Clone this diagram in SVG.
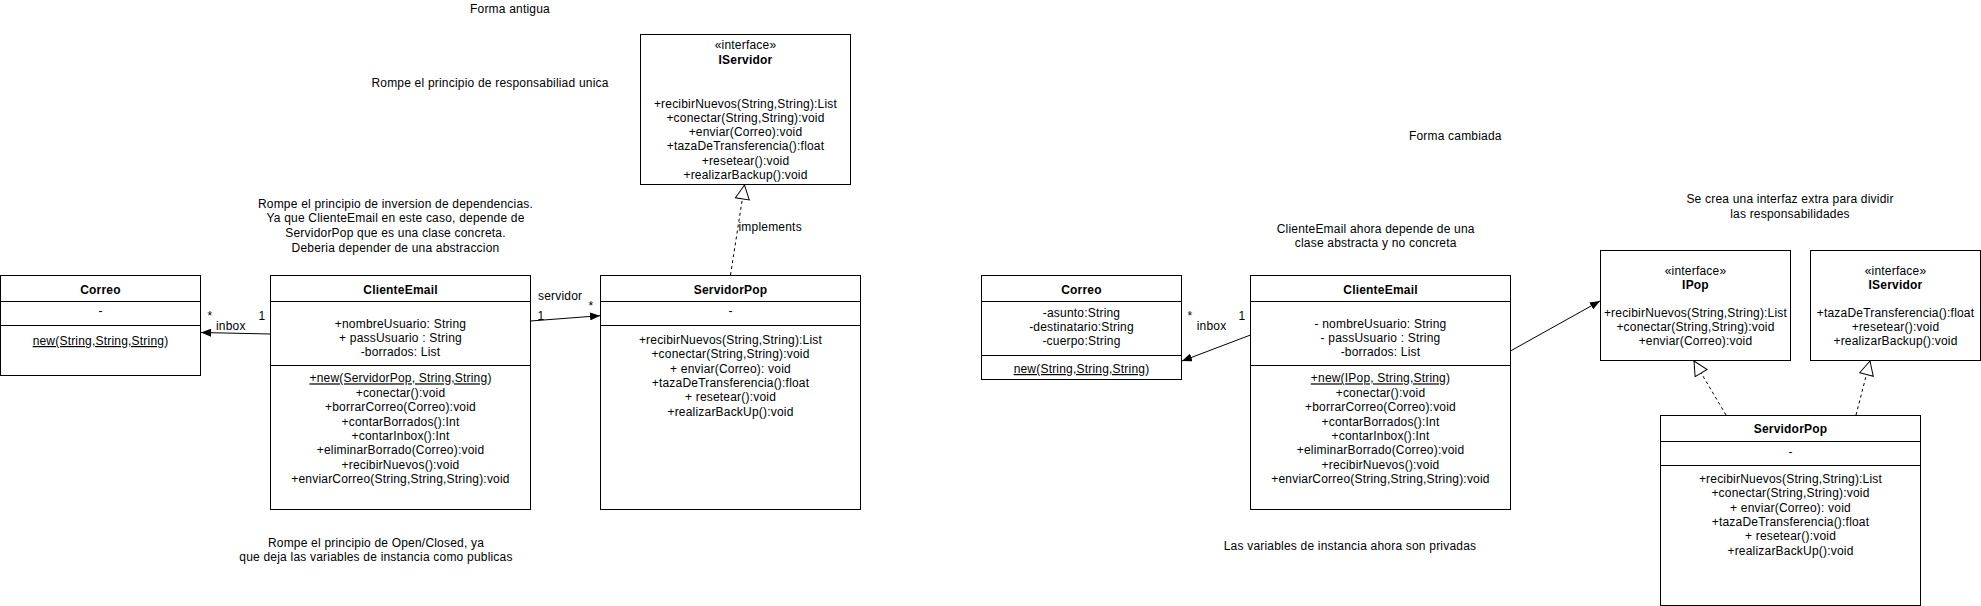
<svg xmlns="http://www.w3.org/2000/svg" width="1981" height="606" viewBox="0 0 1981 606">
<style>
text{font-family:"Liberation Sans",Arial,Helvetica,sans-serif;font-size:12px;fill:#000;letter-spacing:0.2px}
.c{text-anchor:middle}
.b{font-weight:bold}
.u{text-decoration:underline}
.box{fill:#fff;stroke:#000;stroke-width:1}
.div{stroke:#000;stroke-width:1}
.edge{fill:none;stroke:#000;stroke-width:1}
.dash{stroke-dasharray:3 3}
</style>
<defs>
<marker id="arrowFill" viewBox="0 0 10 8" refX="10" refY="4" markerWidth="10" markerHeight="8" orient="auto" markerUnits="userSpaceOnUse">
<path d="M0,0 L10,4 L0,8 z" fill="#000" stroke="none"/>
</marker>
<marker id="arrowHollow" viewBox="-1 -1 16 16" refX="14" refY="7" markerWidth="16" markerHeight="16" orient="auto" markerUnits="userSpaceOnUse">
<path d="M0,0 L14,7 L0,14 z" fill="#fff" stroke="#000" stroke-width="1"/>
</marker>
</defs>
<rect x="0" y="0" width="1981" height="606" fill="#fff"/>

<g id="connectors">
<line class="edge" x1="270" y1="334" x2="201" y2="332.5" marker-end="url(#arrowFill)"/>
<line class="edge" x1="530.5" y1="321" x2="600" y2="315.7" marker-end="url(#arrowFill)"/>
<line class="edge dash" x1="730.5" y1="275" x2="744.5" y2="185" marker-end="url(#arrowHollow)"/>
<line class="edge" x1="1250.5" y1="335" x2="1182" y2="361" marker-end="url(#arrowFill)"/>
<line class="edge" x1="1511" y1="350.7" x2="1600" y2="301" marker-end="url(#arrowFill)"/>
<line class="edge dash" x1="1726" y1="415" x2="1694" y2="361" marker-end="url(#arrowHollow)"/>
<line class="edge dash" x1="1856" y1="415" x2="1870" y2="361" marker-end="url(#arrowHollow)"/>
<text class="c" x="210" y="320">*</text>
<text x="216" y="330">inbox</text>
<text x="258.5" y="319.5">1</text>
<text x="538" y="300">servidor</text>
<text x="537.5" y="319.5">1</text>
<text class="c" x="591" y="309.5">*</text>
<text x="738.5" y="231">implements</text>
<text class="c" x="1190" y="320">*</text>
<text x="1196.7" y="330.3">inbox</text>
<text x="1238.5" y="319.5">1</text>
</g>

<g id="correo-old">
<rect class="box" x="0.5" y="275.5" width="200" height="100"/>
<line class="div" x1="0.5" y1="301.5" x2="200.5" y2="301.5"/>
<line class="div" x1="0.5" y1="325.5" x2="200.5" y2="325.5"/>
<text class="c b" x="100.5" y="293.5">Correo</text>
<text class="c" x="100.5" y="315">-</text>
<text class="c" x="100.5" y="345"><tspan class="u">new(String,String,String</tspan>)</text>
</g>

<g id="clienteemail-old">
<rect class="box" x="270.5" y="275.5" width="260" height="234"/>
<line class="div" x1="270.5" y1="301.5" x2="530.5" y2="301.5"/>
<line class="div" x1="270.5" y1="365.5" x2="530.5" y2="365.5"/>
<text class="c b" x="400.5" y="293.5">ClienteEmail</text>
<text class="c" x="400.5" y="327.5">+nombreUsuario: String</text>
<text class="c" x="400.5" y="341.8">+ passUsuario : String</text>
<text class="c" x="400.5" y="356.1">-borrados: List</text>
<text class="c" x="400.5" y="382.4"><tspan class="u">+new(ServidorPop, String,String</tspan>)</text>
<text class="c" x="400.5" y="396.8">+conectar():void</text>
<text class="c" x="400.5" y="411.2">+borrarCorreo(Correo):void</text>
<text class="c" x="400.5" y="425.6">+contarBorrados():Int</text>
<text class="c" x="400.5" y="440">+contarInbox():Int</text>
<text class="c" x="400.5" y="454.4">+eliminarBorrado(Correo):void</text>
<text class="c" x="400.5" y="468.8">+recibirNuevos():void</text>
<text class="c" x="400.5" y="483.2">+enviarCorreo(String,String,String):void</text>
</g>

<g id="servidorpop-old">
<rect class="box" x="600.5" y="275.5" width="260" height="234"/>
<line class="div" x1="600.5" y1="301.5" x2="860.5" y2="301.5"/>
<line class="div" x1="600.5" y1="325.5" x2="860.5" y2="325.5"/>
<text class="c b" x="730.5" y="293.5">ServidorPop</text>
<text class="c" x="730.5" y="315">-</text>
<text class="c" x="730.5" y="344">+recibirNuevos(String,String):List</text>
<text class="c" x="730.5" y="358.3">+conectar(String,String):void</text>
<text class="c" x="730.5" y="372.6">+ enviar(Correo): void</text>
<text class="c" x="730.5" y="386.9">+tazaDeTransferencia():float</text>
<text class="c" x="730.5" y="401.2">+ resetear():void</text>
<text class="c" x="730.5" y="415.5">+realizarBackUp():void</text>
</g>

<g id="iservidor-old">
<rect class="box" x="640.5" y="34.5" width="210" height="150"/>
<text class="c" x="745.5" y="49.3">«interface»</text>
<text class="c b" x="745.5" y="63.8">IServidor</text>
<text class="c" x="745.5" y="107.5">+recibirNuevos(String,String):List</text>
<text class="c" x="745.5" y="121.8">+conectar(String,String):void</text>
<text class="c" x="745.5" y="136.1">+enviar(Correo):void</text>
<text class="c" x="745.5" y="150.4">+tazaDeTransferencia():float</text>
<text class="c" x="745.5" y="164.7">+resetear():void</text>
<text class="c" x="745.5" y="179">+realizarBackup():void</text>
</g>

<g id="note-forma-antigua"><text class="c" x="510" y="12.5">Forma antigua</text></g>
<g id="note-responsabilidad"><text class="c" x="490" y="87">Rompe el principio de responsabiliad unica</text></g>
<g id="note-inversion">
<text class="c" x="395.5" y="207.6">Rompe el principio de inversion de dependencias.</text>
<text class="c" x="395.5" y="222.3">Ya que ClienteEmail en este caso, depende de</text>
<text class="c" x="395.5" y="237">ServidorPop que es una clase concreta.</text>
<text class="c" x="395.5" y="251.7">Deberia depender de una abstraccion</text>
</g>
<g id="note-openclosed">
<text class="c" x="376" y="547">Rompe el principio de Open/Closed, ya</text>
<text class="c" x="376" y="561">que deja las variables de instancia como publicas</text>
</g>

<g id="note-forma-cambiada"><text class="c" x="1455.3" y="140.3">Forma cambiada</text></g>
<g id="note-abstracta">
<text class="c" x="1375.7" y="232.6">ClienteEmail ahora depende de una</text>
<text class="c" x="1375.7" y="247.4">clase abstracta y no concreta</text>
</g>
<g id="note-privadas"><text class="c" x="1350" y="550">Las variables de instancia ahora son privadas</text></g>
<g id="note-interfaz-extra">
<text class="c" x="1790" y="203">Se crea una interfaz extra para dividir</text>
<text class="c" x="1790" y="217.5">las responsabilidades</text>
</g>

<g id="correo-new">
<rect class="box" x="981.5" y="275.5" width="200" height="104"/>
<line class="div" x1="981.5" y1="301.5" x2="1181.5" y2="301.5"/>
<line class="div" x1="981.5" y1="355.5" x2="1181.5" y2="355.5"/>
<text class="c b" x="1081.5" y="293.5">Correo</text>
<text class="c" x="1081.5" y="316.5">-asunto:String</text>
<text class="c" x="1081.5" y="330.8">-destinatario:String</text>
<text class="c" x="1081.5" y="345.1">-cuerpo:String</text>
<text class="c" x="1081.5" y="373"><tspan class="u">new(String,String,String</tspan>)</text>
</g>

<g id="clienteemail-new">
<rect class="box" x="1250.5" y="275.5" width="260" height="234"/>
<line class="div" x1="1250.5" y1="301.5" x2="1510.5" y2="301.5"/>
<line class="div" x1="1250.5" y1="365.5" x2="1510.5" y2="365.5"/>
<text class="c b" x="1380.5" y="293.5">ClienteEmail</text>
<text class="c" x="1380.5" y="327.5">- nombreUsuario: String</text>
<text class="c" x="1380.5" y="341.8">- passUsuario : String</text>
<text class="c" x="1380.5" y="356.1">-borrados: List</text>
<text class="c" x="1380.5" y="382.4"><tspan class="u">+new(IPop, String,String</tspan>)</text>
<text class="c" x="1380.5" y="396.8">+conectar():void</text>
<text class="c" x="1380.5" y="411.2">+borrarCorreo(Correo):void</text>
<text class="c" x="1380.5" y="425.6">+contarBorrados():Int</text>
<text class="c" x="1380.5" y="440">+contarInbox():Int</text>
<text class="c" x="1380.5" y="454.4">+eliminarBorrado(Correo):void</text>
<text class="c" x="1380.5" y="468.8">+recibirNuevos():void</text>
<text class="c" x="1380.5" y="483.2">+enviarCorreo(String,String,String):void</text>
</g>

<g id="ipop">
<rect class="box" x="1600.5" y="250.5" width="190" height="110"/>
<text class="c" x="1695.5" y="274.8">«interface»</text>
<text class="c b" x="1695.5" y="288.5">IPop</text>
<text class="c" x="1695.5" y="316.5">+recibirNuevos(String,String):List</text>
<text class="c" x="1695.5" y="330.8">+conectar(String,String):void</text>
<text class="c" x="1695.5" y="345">+enviar(Correo):void</text>
</g>

<g id="iservidor-new">
<rect class="box" x="1810.5" y="250.5" width="170" height="110"/>
<text class="c" x="1895.5" y="274.8">«interface»</text>
<text class="c b" x="1895.5" y="288.5">IServidor</text>
<text class="c" x="1895.5" y="316.5">+tazaDeTransferencia():float</text>
<text class="c" x="1895.5" y="330.8">+resetear():void</text>
<text class="c" x="1895.5" y="345">+realizarBackup():void</text>
</g>

<g id="servidorpop-new">
<rect class="box" x="1660.5" y="415.5" width="260" height="190"/>
<line class="div" x1="1660.5" y1="441.5" x2="1920.5" y2="441.5"/>
<line class="div" x1="1660.5" y1="465.5" x2="1920.5" y2="465.5"/>
<text class="c b" x="1790.5" y="433.3">ServidorPop</text>
<text class="c" x="1790.5" y="455.5">-</text>
<text class="c" x="1790.5" y="483">+recibirNuevos(String,String):List</text>
<text class="c" x="1790.5" y="497.3">+conectar(String,String):void</text>
<text class="c" x="1790.5" y="511.6">+ enviar(Correo): void</text>
<text class="c" x="1790.5" y="525.9">+tazaDeTransferencia():float</text>
<text class="c" x="1790.5" y="540.2">+ resetear():void</text>
<text class="c" x="1790.5" y="554.5">+realizarBackUp():void</text>
</g>
</svg>
